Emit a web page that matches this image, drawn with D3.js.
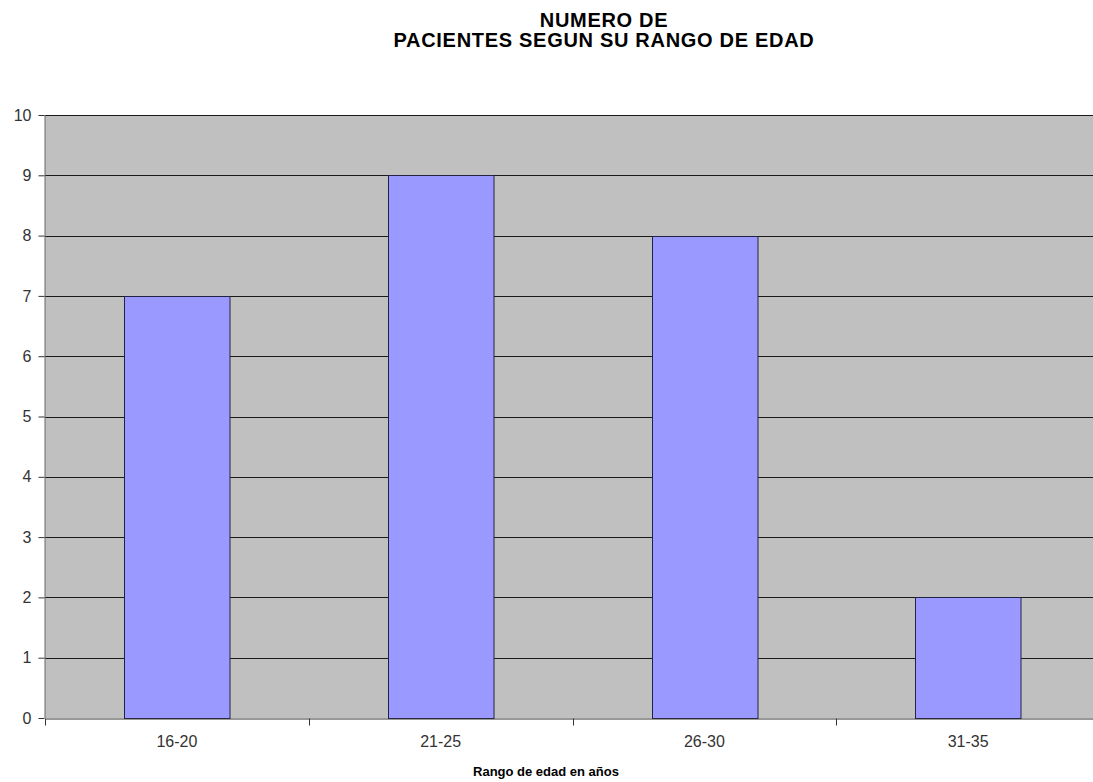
<!DOCTYPE html>
<html>
<head>
<meta charset="utf-8">
<script src="https://cdn.jsdelivr.net/npm/d3@7"></script>
<style>
  html, body { margin: 0; padding: 0; background: #ffffff; }
  svg { display: block; font-family: Arial, "Liberation Sans", sans-serif; }
</style>
</head>
<body>
<svg id="chart" width="1093" height="782"></svg>
<script>
// Patients per age range
const categories = ["16-20", "21-25", "26-30", "31-35"];
const patients = [7, 9, 8, 2];
const yTicks = [0, 1, 2, 3, 4, 5, 6, 7, 8, 9, 10];

const titleLines = ["NUMERO DE", "PACIENTES SEGUN SU RANGO DE EDAD"];
const xTitle = "Rango de edad en años";

const svg = d3.select("#chart");
const margin = { left: 45, right: -7, top: 115, bottom: 64 };
const W = 1093, H = 782;
const innerW = W - margin.left - margin.right;
const innerH = H - margin.top - margin.bottom;

const g = svg.append("g").attr("transform", `translate(${margin.left},${margin.top})`);

const x = d3.scaleBand().domain(categories).range([0, innerW]).paddingInner(0.6).paddingOuter(0.3);
const xEdges = d3.scaleBand().domain(categories).range([0, innerW]).padding(0);
const y = d3.scaleLinear().domain([0, 10]).range([innerH, 0]);

// plot background
g.append("rect").attr("x", 0).attr("y", 0).attr("width", innerW).attr("height", innerH).attr("fill", "#c0c0c0");

// gridlines
g.append("g").selectAll("line").data(yTicks.filter(d => d > 0)).join("line")
  .attr("x1", 0).attr("x2", innerW)
  .attr("y1", d => Math.round(y(d)) + 0.5).attr("y2", d => Math.round(y(d)) + 0.5)
  .attr("stroke", "#1a1a1a").attr("stroke-width", 1);

// bars
g.append("g").selectAll("rect").data(categories).join("rect")
  .attr("x", (d) => Math.round(x(d)) + 0.5)
  .attr("y", (d, i) => Math.round(y(patients[i])) + 0.5)
  .attr("width", x.bandwidth())
  .attr("height", (d, i) => Math.round(y(0)) - Math.round(y(patients[i])))
  .attr("fill", "#9999ff").attr("stroke", "#222244").attr("stroke-width", 1);

// y axis
const yAxis = d3.axisLeft(y).tickValues(yTicks).tickSize(6).tickPadding(7).tickFormat(d3.format("d"));
const ya = g.append("g").attr("transform", "translate(-0.5,0)").call(yAxis);
ya.select(".domain").attr("stroke", "#666666").attr("d", `M0.5,0V${innerH}`);
ya.selectAll(".tick line").attr("stroke", "#333333");
ya.selectAll(".tick text").attr("font-size", 16).attr("fill", "#333333").attr("font-family", "Arial, 'Liberation Sans', sans-serif");

// x axis
const xa = g.append("g").attr("transform", `translate(0,${Math.round(innerH) + 0.5})`)
  .call(d3.axisBottom(x).tickSize(0).tickPadding(17));
xa.select(".domain").attr("stroke", "#333333");
xa.selectAll(".tick text").attr("font-size", 16).attr("fill", "#333333").attr("font-family", "Arial, 'Liberation Sans', sans-serif");

// category separators on the x axis
xa.append("g").selectAll("line").data(categories).join("line")
  .attr("x1", d => Math.round(xEdges(d)) + 0.5).attr("x2", d => Math.round(xEdges(d)) + 0.5)
  .attr("y1", 0).attr("y2", 7).attr("stroke", "#333333");

// title
svg.append("text").attr("text-anchor", "middle")
  .attr("font-size", 20).attr("font-weight", "bold").attr("fill", "#000")
  .attr("letter-spacing", 0.7)
  .selectAll("tspan").data(titleLines).join("tspan")
  .attr("x", 604).attr("y", (d, i) => 27 + i * 20).text(d => d);

// x axis title
svg.append("text").attr("x", 546).attr("y", 776).attr("text-anchor", "middle")
  .attr("font-size", 13).attr("font-weight", "bold").attr("fill", "#000").text(xTitle);
</script>
</body>
</html>
